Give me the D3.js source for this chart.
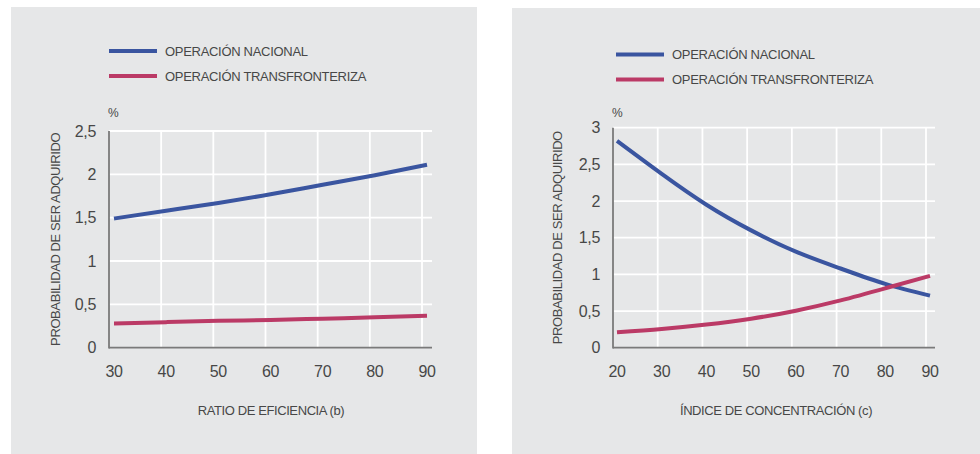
<!DOCTYPE html>
<html><head><meta charset="utf-8">
<script src="https://cdn.jsdelivr.net/npm/d3@7"></script>
<style>
html,body{margin:0;padding:0;background:#fff;}
svg text{font-family:"Liberation Sans",Arial,Helvetica,sans-serif;fill:#474747;}
</style></head>
<body>
<svg id="c" width="980" height="454"></svg>
<script>
// ---- data ----
const seriesNames = ["OPERACIÓN NACIONAL", "OPERACIÓN TRANSFRONTERIZA"];
const seriesColors = ["#3a55a0", "#bb3a66"];
const yAxisTitle = "PROBABILIDAD DE SER ADQUIRIDO";

const leftX = [30, 40, 50, 60, 70, 80, 90];
const leftNacional = [1.49, 1.58, 1.67, 1.77, 1.88, 1.99, 2.11];
const leftTransfront = [0.28, 0.295, 0.31, 0.32, 0.335, 0.35, 0.37];
const leftXTicks = [30, 40, 50, 60, 70, 80, 90];
const leftYTicks = [0, 0.5, 1, 1.5, 2, 2.5];
const leftXTitle = "RATIO DE EFICIENCIA (b)";

const rightX = [20, 30, 40, 50, 60, 70, 80, 90];
const rightNacional = [2.82, 2.37, 1.95, 1.60, 1.31, 1.08, 0.87, 0.71];
const rightTransfront = [0.21, 0.255, 0.315, 0.395, 0.505, 0.645, 0.81, 0.98];
const rightXTicks = [20, 30, 40, 50, 60, 70, 80, 90];
const rightYTicks = [0, 0.5, 1, 1.5, 2, 2.5, 3];
const rightXTitle = "ÍNDICE DE CONCENTRACIÓN (c)";

const svg = d3.select("#c");
const fmt = v => String(v).replace(".", ",");

function panel(cfg) {
  const g = svg.append("g");
  g.append("rect").attr("x", cfg.bg[0]).attr("y", cfg.bg[1])
    .attr("width", cfg.bg[2]).attr("height", cfg.bg[3]).attr("fill", "#e6e7e8");

  const x = d3.scaleLinear().domain(cfg.xDomain).range(cfg.xRange);
  const y = d3.scaleLinear().domain(cfg.yDomain).range(cfg.yRange);
  const off = cfg.gridOff;
  const axisX = x(cfg.xDomain[0]) - off;

  g.selectAll(".hg").data(cfg.yTicks.filter(v => v > 0)).join("line")
    .attr("x1", axisX).attr("x2", cfg.gridRight)
    .attr("y1", d => y(d)).attr("y2", d => y(d))
    .attr("stroke", "#fff").attr("stroke-width", 1.8);
  g.selectAll(".vg").data(cfg.xTicks.slice(1)).join("line")
    .attr("x1", d => x(d) - off).attr("x2", d => x(d) - off)
    .attr("y1", y(cfg.yDomain[1])).attr("y2", y(0))
    .attr("stroke", "#fff").attr("stroke-width", 1.8);
  g.append("line").attr("x1", axisX).attr("x2", axisX)
    .attr("y1", y(cfg.yDomain[1])).attr("y2", y(0) + 0.8)
    .attr("stroke", "#7a7a7a").attr("stroke-width", 1.8);
  g.append("line").attr("x1", axisX).attr("x2", cfg.gridRight)
    .attr("y1", y(0)).attr("y2", y(0))
    .attr("stroke", "#7a7a7a").attr("stroke-width", 1.8);

  g.selectAll(".yl").data(cfg.yTicks).join("text")
    .attr("x", cfg.yLabelRight).attr("y", d => y(d)).attr("dy", "0.35em")
    .attr("text-anchor", "end").attr("font-size", 16).attr("letter-spacing", -0.3)
    .text(d => fmt(d));
  g.selectAll(".xl").data(cfg.xTicks).join("text")
    .attr("x", d => x(d)).attr("y", 376.5)
    .attr("text-anchor", "middle").attr("font-size", 16).attr("letter-spacing", -0.3)
    .text(d => d);

  g.append("text").attr("x", axisX - 1).attr("y", 117).attr("font-size", 12).text("%");

  g.append("text").attr("transform", `translate(${cfg.yTitleX},${(y(cfg.yDomain[1]) + y(0)) / 2}) rotate(-90)`)
    .attr("text-anchor", "middle").attr("dy", "0.35em").attr("font-size", 13)
    .attr("letter-spacing", -0.4).text(yAxisTitle);

  g.append("text").attr("x", cfg.xTitleX).attr("y", 415)
    .attr("text-anchor", "middle").attr("font-size", 13).attr("letter-spacing", -0.4)
    .text(cfg.xTitle);

  const leg = g.selectAll(".leg").data(seriesNames).join("g")
    .attr("transform", (d, i) => `translate(${cfg.legX},${cfg.legY + i * 25})`);
  leg.append("line").attr("x1", 0).attr("x2", 48).attr("y1", 0).attr("y2", 0)
    .attr("stroke", (d, i) => seriesColors[i]).attr("stroke-width", 4);
  leg.append("text").attr("x", 56).attr("dy", "0.36em").attr("font-size", 13)
    .attr("letter-spacing", -0.3).text(d => d);

  const line = d3.line().x(d => x(d[0])).y(d => y(d[1])).curve(d3.curveNatural);
  cfg.series.forEach((s, i) => {
    g.append("path").datum(cfg.xs.map((v, j) => [v, s[j]]))
      .attr("d", line).attr("fill", "none")
      .attr("stroke", seriesColors[i]).attr("stroke-width", 4);
  });
}

panel({
  bg: [11, 7, 466, 447],
  xDomain: [30, 90], xRange: [114, 427],
  yDomain: [0, 2.5], yRange: [347.7, 131],
  gridOff: 5, gridRight: 432,
  xTicks: leftXTicks, yTicks: leftYTicks,
  yLabelRight: 96, yTitleX: 55, xTitleX: 271, xTitle: leftXTitle,
  legX: 109, legY: 51,
  xs: leftX, series: [leftNacional, leftTransfront]
});

panel({
  bg: [512, 8, 468, 446],
  xDomain: [20, 90], xRange: [617, 930],
  yDomain: [0, 3], yRange: [347.7, 127.7],
  gridOff: 4, gridRight: 935,
  xTicks: rightXTicks, yTicks: rightYTicks,
  yLabelRight: 600, yTitleX: 557, xTitleX: 776, xTitle: rightXTitle,
  legX: 616, legY: 54.5,
  xs: rightX, series: [rightNacional, rightTransfront]
});
</script>
</body></html>
